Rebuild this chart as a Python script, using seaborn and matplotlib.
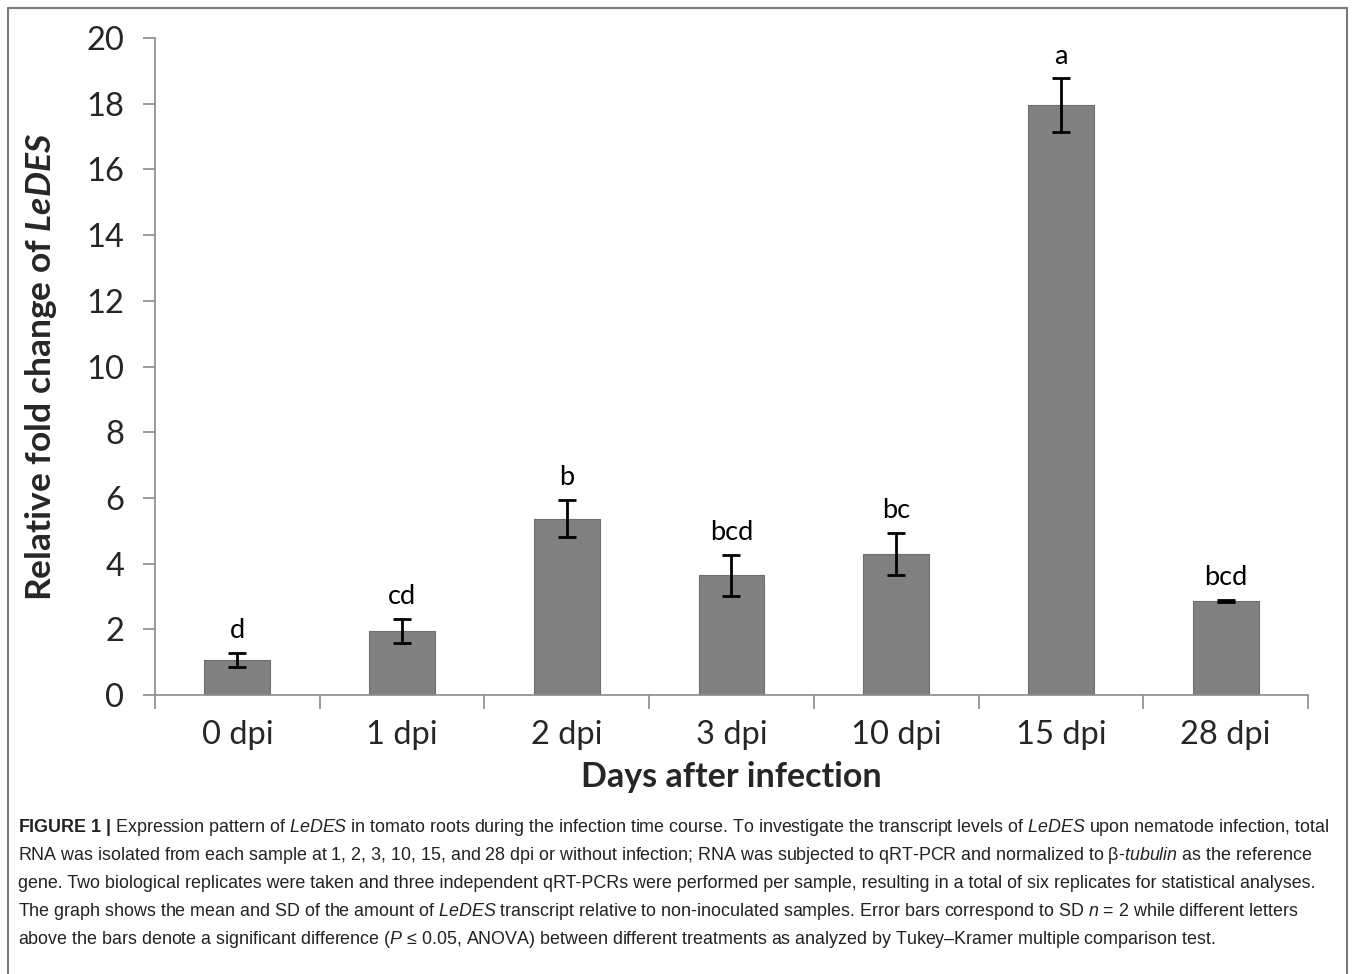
import matplotlib
matplotlib.use("Agg")
import matplotlib.pyplot as plt
import numpy as np
import pandas as pd
import seaborn as sns
from matplotlib.lines import Line2D

# values
days = ["0 dpi", "1 dpi", "2 dpi", "3 dpi", "10 dpi", "15 dpi", "28 dpi"]
fold_change = [1.07, 1.95, 5.37, 3.64, 4.29, 17.95, 2.86]
sd = [0.22, 0.36, 0.57, 0.62, 0.64, 0.82, 0.04]
letters = ["d", "cd", "b", "bcd", "bc", "a", "bcd"]

df = pd.DataFrame({"day": days, "fold": fold_change})

sns.set_style("white")
plt.rcParams["font.family"] = ["Lato", "DejaVu Sans"]
plt.rcParams["mathtext.fontset"] = "custom"
plt.rcParams["mathtext.rm"] = "Liberation Sans"
plt.rcParams["mathtext.it"] = "Liberation Sans:italic"
plt.rcParams["mathtext.bf"] = "Liberation Sans:bold"
plt.rcParams["mathtext.bfit"] = "Lato:italic:bold"

fig = plt.figure(figsize=(13.55, 9.74), dpi=100)
ax = fig.add_axes([0.1144, 0.2864, 0.8509, 0.6746])

axis_col = "#8a8a8a"
sns.barplot(data=df, x="day", y="fold", color="#808080", width=0.4,
            saturation=1, edgecolor="#6e6e6e", linewidth=0.8, ax=ax)
x = np.arange(len(days))
ax.errorbar(x, fold_change, yerr=sd, fmt="none", ecolor="black",
            elinewidth=2, capsize=6.5, capthick=2, zorder=5)

for xi, v, s, lab in zip(x, fold_change, sd, letters):
    ax.text(xi, v + s + 0.3, lab, ha="center", va="bottom", fontsize=19.5,
            color="black")

ax.set_ylim(0, 20)
ax.set_xlim(-0.5, 6.5)
ax.set_yticks(range(0, 21, 2))
ax.tick_params(axis="y", labelsize=23.5, length=9, width=1.2, color=axis_col,
               direction="out", pad=13, left=True)
# category boundaries as ticks, labels centred on bars
ax.set_xticks(np.arange(-0.5, 7, 1.0))
ax.set_xticklabels([])
ax.set_xticks(x, minor=True)
ax.set_xticklabels(days, minor=True)
ax.tick_params(axis="x", which="major", length=10, width=1.2, color=axis_col,
               direction="out", bottom=True)
ax.tick_params(axis="x", which="minor", length=0, labelsize=23.5, pad=18)

sns.despine(ax=ax)
for sp in ["left", "bottom"]:
    ax.spines[sp].set_color(axis_col)
    ax.spines[sp].set_linewidth(1.2)

ax.set_xlabel("Days after infection", fontsize=24.5, fontweight="bold",
              labelpad=8)
ax.set_ylabel(r"Relative fold change of $\mathbfit{LeDES}$", fontsize=25.5,
              fontweight="bold", labelpad=20)

# outer frame (open at bottom)
fw, fh = 1355, 974
frame = dict(color="#7a7a7a", lw=1.5, transform=fig.transFigure)
fig.add_artist(Line2D([8 / fw, 8 / fw], [0, 1 - 8 / fh], **frame))
fig.add_artist(Line2D([8 / fw, 1347 / fw], [1 - 8 / fh, 1 - 8 / fh], **frame))
fig.add_artist(Line2D([1347 / fw, 1347 / fw], [0, 1 - 8 / fh], **frame))

caption = [
    r"$\mathbf{FIGURE\ 1\ |}$ Expression pattern of $\mathit{LeDES}$ in tomato roots during the infection time course. "
    r"To investigate the transcript levels of $\mathit{LeDES}$ upon nematode infection, total",
    r"RNA was isolated from each sample at 1, 2, 3, 10, 15, and 28 dpi or without infection; RNA was subjected to qRT-PCR "
    r"and normalized to β-$\mathit{tubulin}$ as the reference",
    "gene. Two biological replicates were taken and three independent qRT-PCRs were performed per sample, "
    "resulting in a total of six replicates for statistical analyses.",
    r"The graph shows the mean and SD of the amount of $\mathit{LeDES}$ transcript relative to non-inoculated samples. "
    r"Error bars correspond to SD $\mathit{n}$ = 2 while different letters",
    r"above the bars denote a significant difference ($\mathit{P}$ ≤ 0.05, ANOVA) between different treatments "
    r"as analyzed by Tukey–Kramer multiple comparison test.",
]
for i, line in enumerate(caption):
    y = 828 + i * 27.8
    fig.text(18 / fw, 1 - y / fh, line, ha="left", va="center",
             fontsize=12.9, color="#222222", family="Liberation Sans")

fig.savefig("out.png", dpi=100)
